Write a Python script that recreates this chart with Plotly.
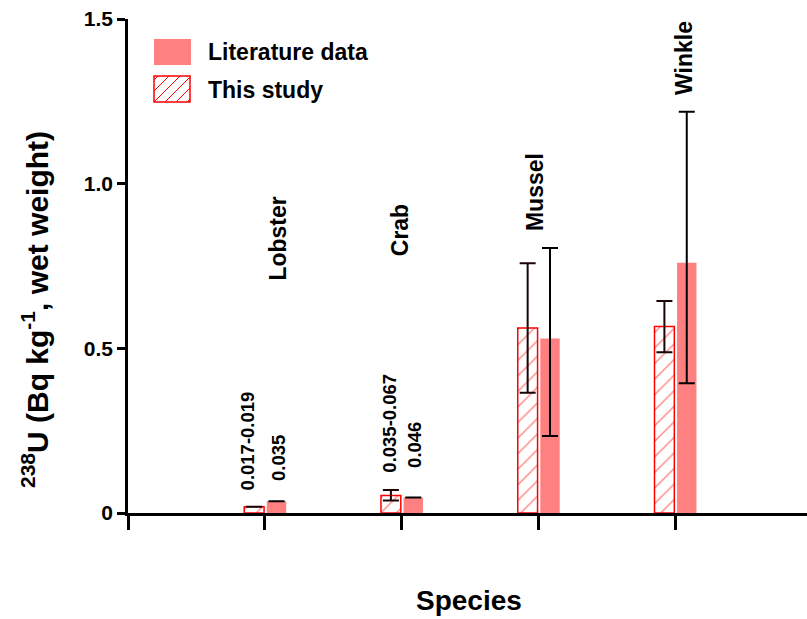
import plotly.graph_objects as go

# ---------------- data ----------------
species = ["Lobster", "Crab", "Mussel", "Winkle"]
study_vals = [0.019, 0.053, 0.562, 0.566]
study_err_plus = [0.0, 0.017, 0.196, 0.078]
study_err_minus = [0.0, 0.015, 0.197, 0.078]
lit_vals = [0.036, 0.047, 0.530, 0.760]
lit_err_plus = [0.0, 0.0, 0.275, 0.458]
lit_err_minus = [0.0, 0.0, 0.296, 0.366]
range_labels = ["0.017-0.019", "0.035-0.067"]
lit_labels = ["0.035", "0.046"]
y_ticks = [0, 0.5, 1.0, 1.5]
y_ticktext = ["0", "0.5", "1.0", "1.5"]

xpos = [i + 1 for i in range(len(species))]

FONT = "Arial, Liberation Sans, sans-serif"
LIT_COLOR = "#FF8080"
RED = "#FF0000"

fig = go.Figure()

fig.add_trace(go.Bar(
    x=xpos, y=study_vals, offset=-0.15, width=0.145,
    marker=dict(color="white", line=dict(color=RED, width=1.5),
                pattern=dict(shape="/", fgcolor=RED, bgcolor="white", size=11, solidity=0.12)),
    error_y=dict(type="data", symmetric=False, array=study_err_plus, arrayminus=study_err_minus,
                 color="#1a0505", thickness=2, width=8),
    name="This study", showlegend=False,
))
fig.add_trace(go.Bar(
    x=xpos, y=lit_vals, offset=0.015, width=0.142,
    marker=dict(color=LIT_COLOR, line=dict(width=0)),
    error_y=dict(type="data", symmetric=False, array=lit_err_plus, arrayminus=lit_err_minus,
                 color="black", thickness=2, width=8),
    name="Literature data", showlegend=False,
))

# ---------------- layout ----------------
L, R, T, B = 128, 0, 19, 106
W, H = 807, 619
pw, ph = W - L - R, H - T - B


def px(xp):
    return (xp - L) / pw


def py(yp):
    return (H - B - yp) / ph


annotations = []
# category labels (rotated)
cat_dx = [0.10, -0.01, -0.024, 0.07]
cat_y = [0.701, 0.774, 0.850, 1.262]
for i, name in enumerate(species):
    annotations.append(dict(x=xpos[i] + cat_dx[i], y=cat_y[i], xref="x", yref="y",
                            text=name, textangle=-90, showarrow=False,
                            xanchor="center", yanchor="bottom",
                            font=dict(family=FONT, size=23, color="black", weight="bold")))
# value labels
val_specs = [
    (xpos[0] - 0.13, 0.064, range_labels[0]),
    (xpos[0] + 0.097, 0.091, lit_labels[0]),
    (xpos[1] - 0.084, 0.115, range_labels[1]),
    (xpos[1] + 0.099, 0.131, lit_labels[1]),
]
for xv, yv, t in val_specs:
    annotations.append(dict(x=xv, y=yv, xref="x", yref="y", text=t, textangle=-90,
                            showarrow=False, xanchor="center", yanchor="bottom",
                            font=dict(family=FONT, size=18.5, color="black", weight="bold")))
# y-axis title
annotations.append(dict(x=px(35), y=py(310), xref="paper", yref="paper",
                        text="<sup>238</sup>U (Bq kg<sup>-1</sup>, wet weight)",
                        textangle=-90, showarrow=False, xanchor="center", yanchor="middle",
                        font=dict(family=FONT, size=30, color="black", weight="bold")))
# legend texts
annotations.append(dict(x=px(206), y=py(52), xref="paper", yref="paper", text="Literature data",
                        showarrow=False, xanchor="left", yanchor="middle",
                        font=dict(family=FONT, size=23, color="black", weight="bold")))
annotations.append(dict(x=px(206), y=py(90), xref="paper", yref="paper", text="This study",
                        showarrow=False, xanchor="left", yanchor="middle",
                        font=dict(family=FONT, size=23, color="black", weight="bold")))

shapes = []
# legend swatch: literature
shapes.append(dict(type="rect", xref="paper", yref="paper", x0=px(154), x1=px(191),
                   y0=py(65), y1=py(39), fillcolor=LIT_COLOR, line=dict(width=0)))
# legend swatch: this study (hatched)
hx0, hx1, hy0, hy1 = 154, 190, 76, 102  # pixel box (top y0, bottom y1)
shapes.append(dict(type="rect", xref="paper", yref="paper", x0=px(hx0), x1=px(hx1),
                   y0=py(hy1), y1=py(hy0), fillcolor="white", line=dict(color=RED, width=1.5)))
hgt = hy1 - hy0
step = 11
start = hx0 - hgt + 4
k = 0
while start + k * step < hx1:
    bx = start + k * step  # bottom x of line
    ax0, ay0 = bx, hy1
    ax1, ay1 = bx + hgt, hy0
    if ax0 < hx0:
        ay0 = hy1 - (hx0 - ax0)
        ax0 = hx0
    if ax1 > hx1:
        ay1 = hy0 + (ax1 - hx1)
        ax1 = hx1
    if ax1 > ax0:
        shapes.append(dict(type="line", xref="paper", yref="paper", x0=px(ax0), y0=py(ay0),
                           x1=px(ax1), y1=py(ay1), line=dict(color=RED, width=1)))
    k += 1

fig.update_layout(
    width=W, height=H,
    margin=dict(l=L, r=R, t=T, b=B, pad=0),
    paper_bgcolor="white", plot_bgcolor="white",
    barmode="overlay",
    showlegend=False,
    xaxis=dict(range=[0, pw / 136.75], tickvals=[0, 1, 2, 3, 4], ticktext=["", "", "", "", ""],
               showgrid=False, zeroline=False, showline=True, linecolor="black", linewidth=3,
               ticks="outside", ticklen=14, tickwidth=2.5, tickcolor="black"),
    yaxis=dict(range=[0, 1.5], tickvals=y_ticks, ticktext=y_ticktext,
               showgrid=False, zeroline=False, showline=True, linecolor="black", linewidth=2.5,
               ticks="outside", ticklen=8, tickwidth=2.5, tickcolor="black",
               tickfont=dict(family=FONT, size=21, color="black", weight="bold")),
    annotations=annotations,
    shapes=shapes,
)
fig.add_annotation(x=0.5 * (415 + 522 - 2 * L) / pw, y=py(600), xref="paper", yref="paper",
                   text="Species", showarrow=False, xanchor="center", yanchor="middle",
                   font=dict(family=FONT, size=28, color="black", weight="bold"))

fig.write_html("out.html")
